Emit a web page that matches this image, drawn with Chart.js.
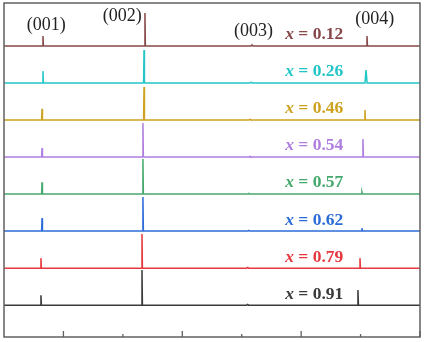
<!DOCTYPE html>
<html>
<head>
<meta charset="utf-8">
<script src="https://cdn.jsdelivr.net/npm/chart.js@4"></script>
<style>
  html, body { margin: 0; padding: 0; background: #fff; }
  #wrap { width: 426px; height: 342px; }
</style>
</head>
<body>
<div id="wrap"><canvas id="xrd"></canvas></div>
<script>
// samples, top to bottom
const samples = ['0.12', '0.26', '0.46', '0.54', '0.57', '0.62', '0.79', '0.91'];
const colors = ['#864848', '#22c6c6', '#cda21e', '#b07ee0', '#45a86d', '#2c6cd8', '#e6393f', '#3a3a3a'];

// peak positions (2theta, deg) for (001) (002) (003) (004)
const pos001 = [8.28, 8.28, 8.20, 8.20, 8.20, 8.20, 8.11, 8.11];
const pos002 = [16.86, 16.78, 16.78, 16.69, 16.69, 16.69, 16.61, 16.61];
const pos003 = [25.86, 25.80, 25.70, 25.70, 25.60, 25.60, 25.50, 25.50];
const pos004 = [35.54, 35.46, 35.37, 35.20, 35.12, 35.12, 34.95, 34.78];

// normalised peak heights
const int001 = [0.27, 0.32, 0.30, 0.24, 0.32, 0.35, 0.27, 0.27];
const int002 = [0.89, 0.89, 0.89, 0.92, 0.95, 0.92, 0.92, 0.95];
const int003 = [0.03, 0.02, 0.02, 0.02, 0.02, 0.02, 0.02, 0.02];
const int004 = [0.27, 0.35, 0.27, 0.49, 0.05, 0.08, 0.27, 0.41];

const hklLabels = ['(001)', '(002)', '(003)', '(004)'];
const hklX = [8.55, 14.95, 26.0, 36.2];
const hklY = [7.56, 7.80, 7.40, 7.72];

const xMin = 5, xMax = 40;
const majorTicks = [10, 20, 30, 40];
const minorTicks = [15, 25, 35];

function buildTrace(i) {
  const base = samples.length - 1 - i;
  const peaks = [
    [pos001[i], int001[i], 0.035],
    [pos002[i], int002[i], 0.035],
    [pos003[i], int003[i], 0.08],
    [pos004[i], int004[i], i === 1 ? 0.09 : 0.04]
  ];
  const pts = [{ x: xMin, y: base }];
  peaks.forEach(function (p) {
    pts.push({ x: p[0] - p[2], y: base });
    pts.push({ x: p[0], y: base + p[1] });
    pts.push({ x: p[0] + p[2], y: base });
  });
  pts.push({ x: xMax, y: base });
  return pts;
}

const datasets = samples.map(function (s, i) {
  return {
    label: 'x = ' + s,
    data: buildTrace(i),
    borderColor: colors[i],
    borderWidth: 1.5,
    pointRadius: 0,
    tension: 0,
    fill: false
  };
});

const decor = {
  id: 'decor',
  afterDraw(chart) {
    const ctx = chart.ctx;
    const a = chart.chartArea;
    const xs = chart.scales.x, ys = chart.scales.y;
    ctx.save();
    // frame
    ctx.strokeStyle = '#606060';
    ctx.lineWidth = 1.5;
    ctx.strokeRect(a.left, a.top, a.right - a.left, a.bottom - a.top);
    // inward ticks
    ctx.lineWidth = 1.3;
    majorTicks.forEach(function (t) {
      const px = xs.getPixelForValue(t);
      ctx.beginPath(); ctx.moveTo(px, a.bottom); ctx.lineTo(px, a.bottom - 6); ctx.stroke();
    });
    minorTicks.forEach(function (t) {
      const px = xs.getPixelForValue(t);
      ctx.beginPath(); ctx.moveTo(px, a.bottom); ctx.lineTo(px, a.bottom - 3); ctx.stroke();
    });
    // hkl labels
    ctx.fillStyle = '#222';
    ctx.font = '18px "Liberation Serif", serif';
    ctx.textAlign = 'center';
    ctx.textBaseline = 'middle';
    hklLabels.forEach(function (t, k) {
      ctx.fillText(t, xs.getPixelForValue(hklX[k]), ys.getPixelForValue(hklY[k]));
    });
    // sample labels
    ctx.textAlign = 'left';
    samples.forEach(function (s, i) {
      const base = samples.length - 1 - i;
      const right = xs.getPixelForValue(33.55);
      const py = ys.getPixelForValue(base + 0.30);
      ctx.font = 'bold 17.5px "Liberation Serif", serif';
      const rest = ' = ' + s;
      const wRest = ctx.measureText(rest).width;
      ctx.font = 'italic bold 17.5px "Liberation Serif", serif';
      const wx = ctx.measureText('x').width;
      const left = right - wRest - wx;
      ctx.fillStyle = colors[i];
      ctx.fillText('x', left, py);
      ctx.font = 'bold 17.5px "Liberation Serif", serif';
      ctx.fillText(rest, left + wx, py);
    });
    ctx.restore();
  }
};

new Chart(document.getElementById('xrd'), {
  type: 'line',
  data: { datasets: datasets },
  options: {
    responsive: true,
    maintainAspectRatio: false,
    animation: false,
    layout: { padding: { left: 4, right: 6, top: 3, bottom: 5 } },
    plugins: { legend: { display: false }, tooltip: { enabled: false } },
    scales: {
      x: { type: 'linear', min: xMin, max: xMax, display: false },
      y: { type: 'linear', min: -0.86, max: 8.16, display: false }
    }
  },
  plugins: [decor]
});
</script>
</body>
</html>
